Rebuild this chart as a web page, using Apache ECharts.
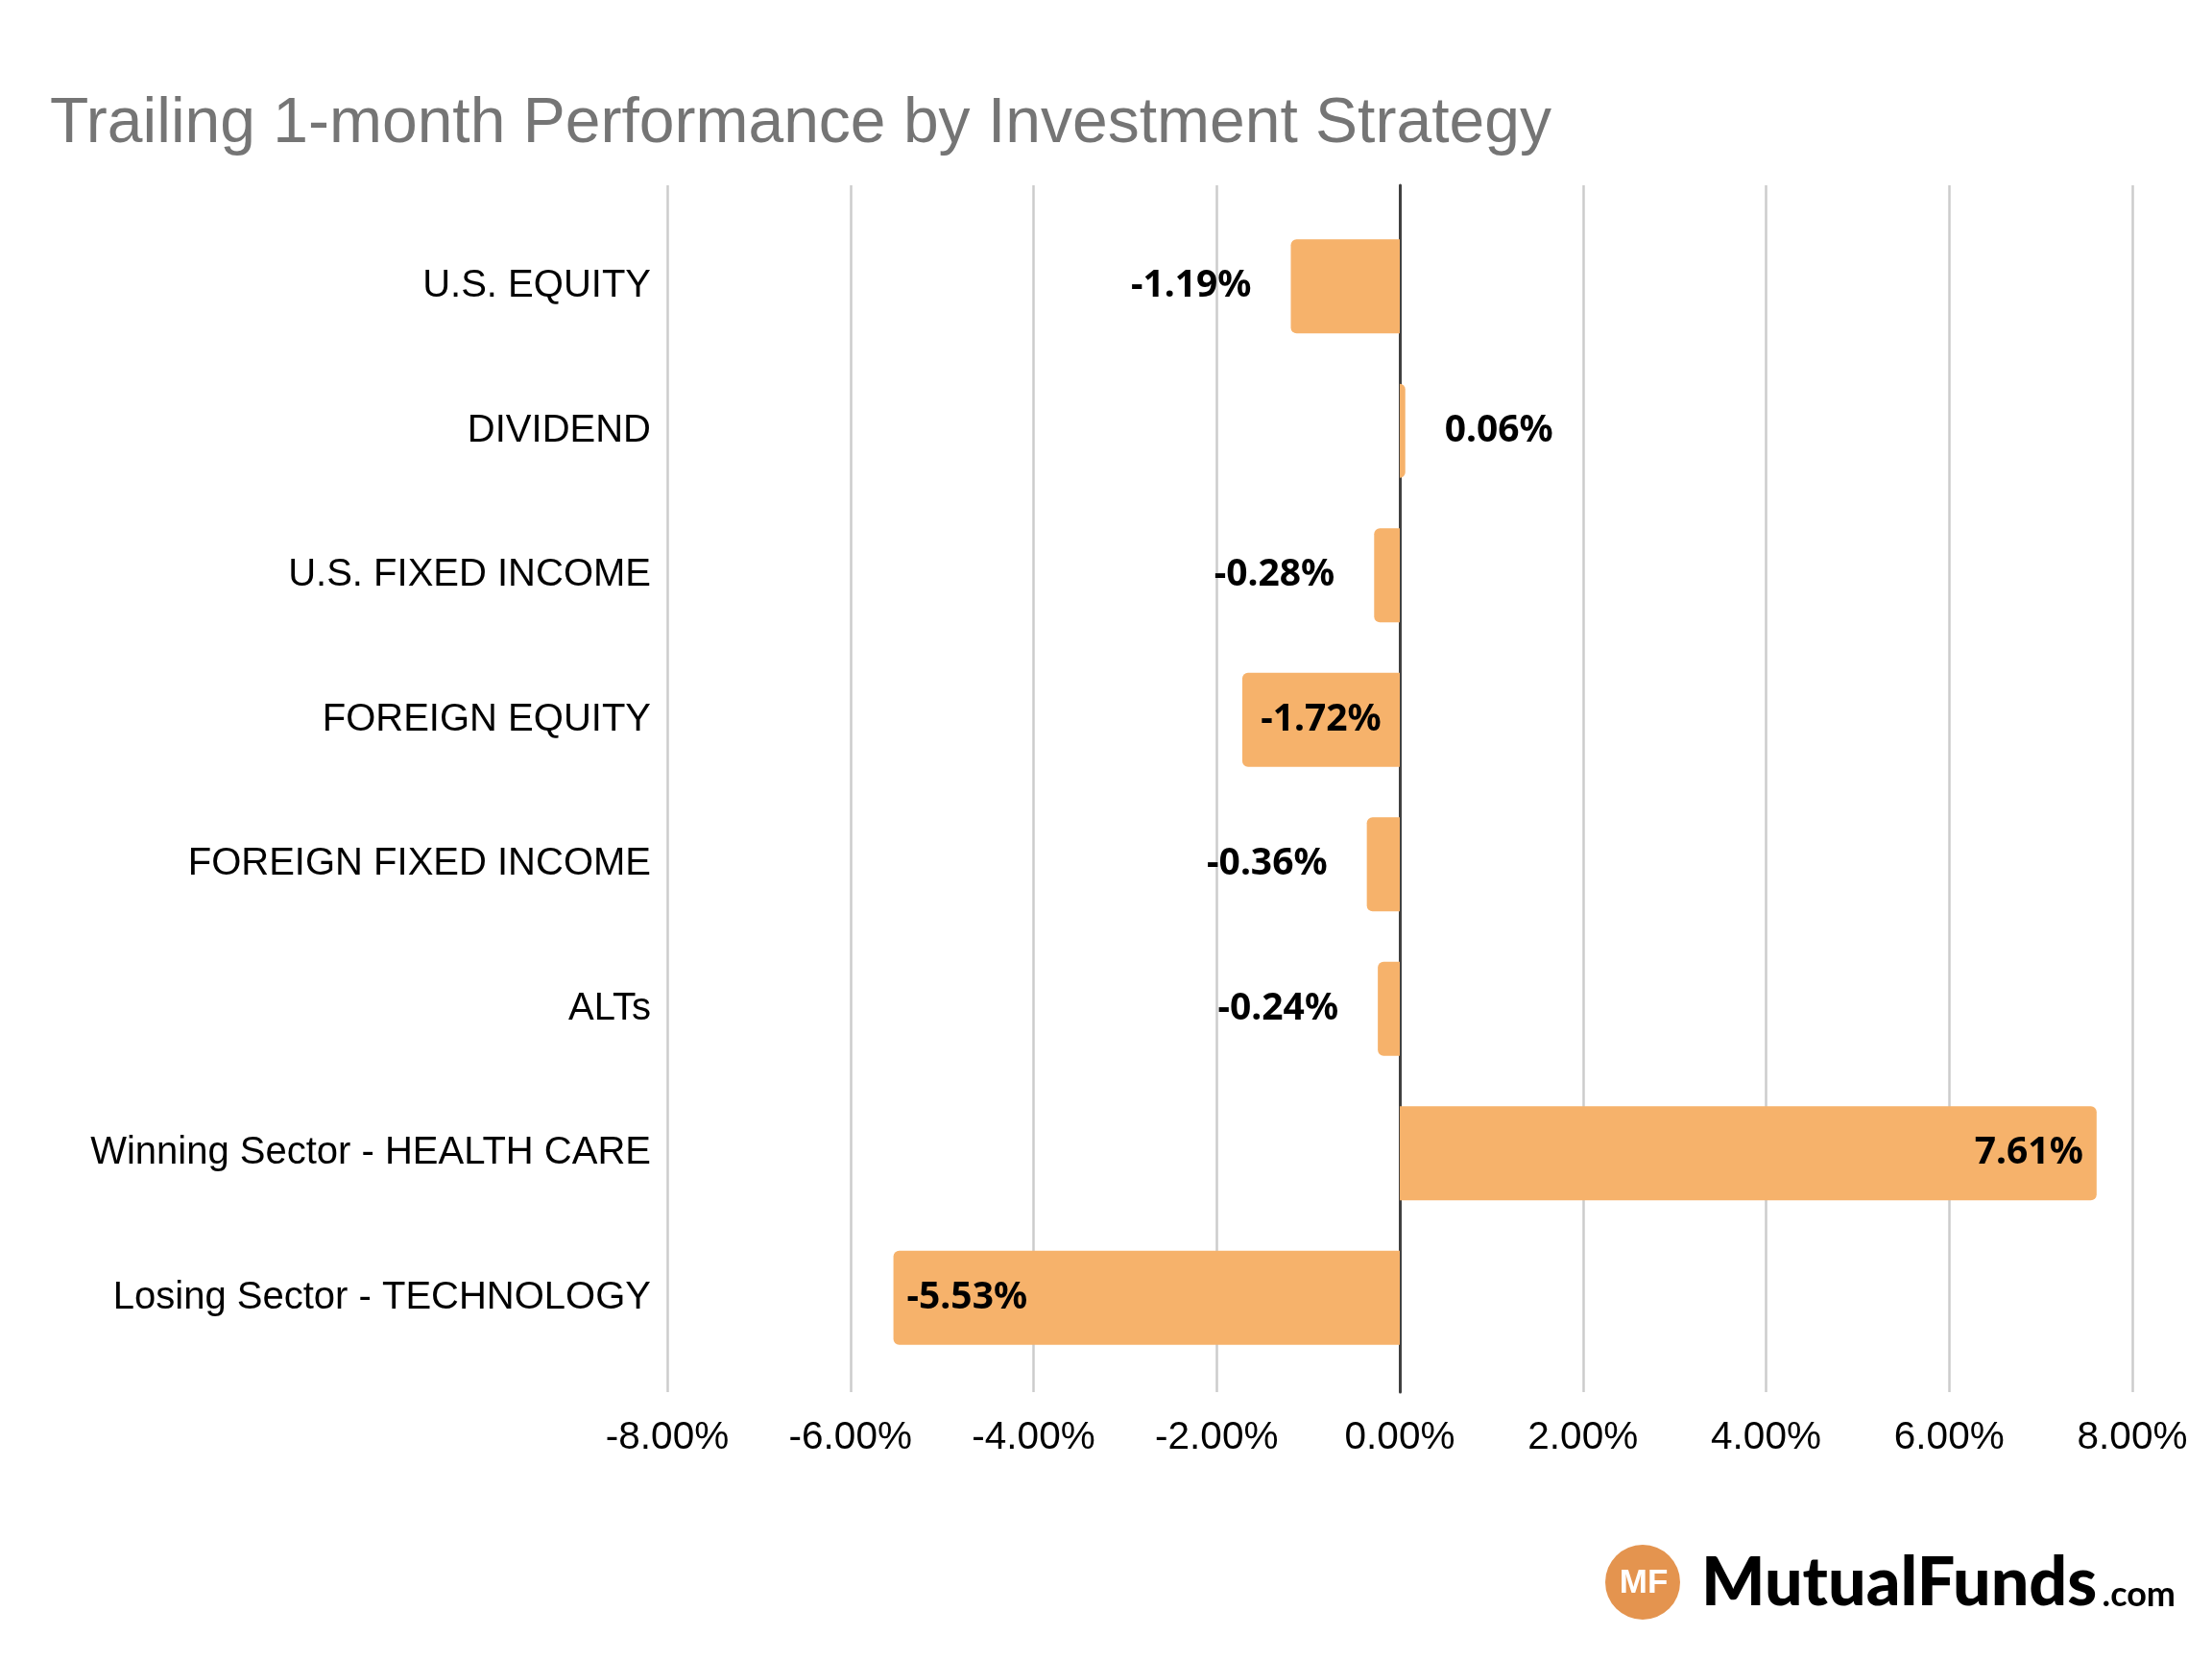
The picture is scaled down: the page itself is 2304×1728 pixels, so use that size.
<!DOCTYPE html>
<html>
<head>
<meta charset="utf-8">
<title>Trailing 1-month Performance by Investment Strategy</title>
<script src="https://cdn.jsdelivr.net/npm/echarts@6/dist/echarts.min.js"></script>
<style>
	html, body { margin: 0; padding: 0; background: #ffffff; }
	#chart { width: 2304px; height: 1728px; }
</style>
</head>
<body>
<div id="chart"></div>
<script>

var categories = ['U.S. EQUITY', 'DIVIDEND', 'U.S. FIXED INCOME', 'FOREIGN EQUITY',
		'FOREIGN FIXED INCOME', 'ALTs', 'Winning Sector - HEALTH CARE',
		'Losing Sector - TECHNOLOGY'];
var values = [-1.19, 0.06, -0.28, -1.72, -0.36, -0.24, 7.61, -5.53];

// x axis ticks (percent)
var axisMin = -8;
var axisMax = 8;
var axisStep = 2;

var barColor = '#F6B26B';

function pctText(v) {
	return v.toFixed(2) + '%';
}

//label placement like the original: short bars outside, medium centred, long ones at the end
function labelFor(v) {
	var a = Math.abs(v);
	if (a < 1.5) {
		return { position : v < 0 ? 'left' : 'right', distance : 41 };
	} else if (a < 5) {
		return { position : 'inside' };
	}
	return { position : v < 0 ? 'insideLeft' : 'insideRight', distance : 14 };
}

function buildBarData() {
	var out = [];
	for (var i = 0; i < values.length; i++) {
		var v = values[i];
		out.push({
			value : v,
			label : labelFor(v),
			itemStyle : {
				borderRadius : v < 0 ? [6, 0, 0, 6] : [0, 6, 6, 0]
			}
		});
	}
	return out;
}

var myChart = echarts.init(document.getElementById('chart'), null, { renderer : 'canvas' });

var option = {
	backgroundColor : '#ffffff',
	animation : false,
	title : {
		text : 'Trailing 1-month Performance by Investment Strategy',
		left : 47,
		top : 92,
		textStyle : {
			fontFamily : 'Liberation Sans',
			fontSize : 66,
			fontWeight : 'normal',
			color : '#757575'
		}
	},
	grid : [
		// background grid: gridlines, tick labels, zero line
		{ left : 695, right : 83, top : 193, bottom : 278, outerBoundsMode : 'none' },
		// bar grid
		{ left : 695, right : 83, top : 223, bottom : 301, outerBoundsMode : 'none' }
	],
	xAxis : [{
		type : 'value',
		gridIndex : 0,
		min : axisMin,
		max : axisMax,
		interval : axisStep,
		axisLine : { show : false },
		axisTick : { show : false },
		splitLine : { show : true, lineStyle : { color : '#cccccc', width : 2.5 } },
		axisLabel : {
			margin : 27,
			fontFamily : 'Liberation Sans',
			fontSize : 40.5,
			color : '#000000',
			formatter : function(v) { return pctText(v); }
		}
	}, {
		type : 'value',
		gridIndex : 1,
		min : axisMin,
		max : axisMax,
		interval : axisStep,
		show : false
	}],
	yAxis : [{
		type : 'value',
		gridIndex : 0,
		min : 0,
		max : 1,
		axisLine : { show : true, onZero : true, lineStyle : { color : '#404040', width : 3 } },
		axisTick : { show : false },
		axisLabel : { show : false },
		splitLine : { show : false }
	}, {
		type : 'category',
		gridIndex : 1,
		inverse : true,
		data : categories,
		axisLine : { show : false, onZero : false },
		axisTick : { show : false },
		splitLine : { show : false },
		axisLabel : {
			margin : 17,
			fontFamily : 'Liberation Sans',
			fontSize : 40,
			color : '#000000'
		}
	}],
	series : [{
		type : 'bar',
		xAxisIndex : 1,
		yAxisIndex : 1,
		barWidth : 98,
		data : buildBarData(),
		itemStyle : { color : barColor },
		label : {
			show : true,
			fontFamily : 'Noto Sans',
			fontWeight : 'bold',
			fontSize : 39,
			color : '#000000',
			formatter : function(p) { return pctText(p.value); }
		}
	}],
	graphic : [
		// MutualFunds.com logo
		{
			type : 'circle',
			shape : { cx : 1711, cy : 1648, r : 39 },
			style : { fill : '#E4944F' }
		}, {
			type : 'text',
			x : 1712,
			y : 1649,
			style : {
				text : 'MF',
				fill : '#ffffff',
				font : 'bold 35px "Liberation Sans"',
				align : 'center',
				verticalAlign : 'middle'
			}
		}, {
			type : 'text',
			x : 1772,
			y : 1649,
			style : {
				text : 'MutualFunds',
				fill : '#000000',
				font : '900 70px Lato',
				align : 'left',
				verticalAlign : 'middle'
			}
		}, {
			type : 'text',
			x : 2266,
			y : 1661,
			style : {
				text : '.com',
				fill : '#000000',
				font : 'bold 36px Lato',
				align : 'right',
				verticalAlign : 'middle'
			}
		}
	]
};

myChart.setOption(option);

</script>
</body>
</html>
